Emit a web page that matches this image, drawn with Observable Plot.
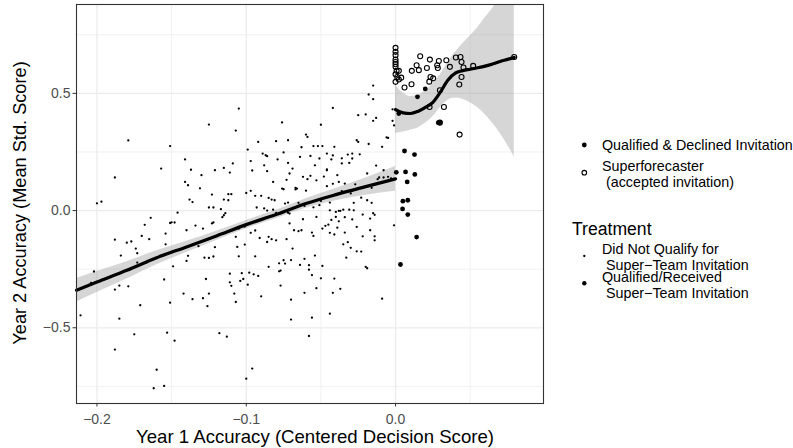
<!DOCTYPE html>
<html><head><meta charset="utf-8">
<script src="https://cdn.jsdelivr.net/npm/d3@7"></script>
<script src="https://cdn.jsdelivr.net/npm/@observablehq/plot@0.6"></script>
<style>html,body{margin:0;padding:0;background:#fff;}</style>
</head><body><div id="chart"></div>
<script>
// Did not qualify (small dots): [x, y]
const notQualified = [
[-0.211,-0.447],[-0.202,-0.260],[-0.204,-0.309],[-0.200,0.031],[-0.197,0.038],[-0.188,0.141],[-0.188,-0.124],[-0.188,-0.337],[-0.185,-0.320],[-0.185,-0.461],[-0.188,-0.593],[-0.184,-0.192],[-0.179,0.299],[-0.180,-0.137],[-0.177,-0.132],[-0.179,-0.323],[-0.174,-0.162],[-0.173,-0.182],[-0.171,-0.404],[-0.175,-0.528],[-0.173,-0.222],[-0.167,-0.223],[-0.170,-0.108],[-0.168,-0.061],[-0.165,-0.122],[-0.164,-0.031],[-0.162,-0.758],[-0.160,-0.679],[-0.157,0.179],[-0.155,-0.294],[-0.154,-0.098],[-0.154,-0.144],[-0.155,-0.748],[-0.151,0.275],[-0.151,-0.053],[-0.151,-0.393],[-0.153,-0.521],[-0.149,-0.238],[-0.150,-0.050],[-0.148,-0.051],[-0.148,-0.555],[-0.146,-0.009],[-0.141,0.218],[-0.141,0.122],[-0.139,0.108],[-0.140,-0.084],[-0.139,-0.193],[-0.140,-0.215],[-0.138,0.047],[-0.137,0.174],[-0.136,0.036],[-0.134,-0.064],[-0.142,-0.354],[-0.136,-0.378],[-0.132,-0.152],[-0.131,0.095],[-0.130,0.151],[-0.129,-0.077],[-0.128,-0.201],[-0.127,-0.292],[-0.129,-0.374],[-0.126,-0.408],[-0.125,0.367],[-0.125,0.013],[-0.125,-0.202],[-0.125,-0.354],[-0.123,0.068],[-0.123,-0.055],[-0.122,0.013],[-0.122,-0.051],[-0.121,0.172],[-0.122,-0.196],[-0.121,-0.156],[-0.118,-0.523],[-0.117,0.006],[-0.116,-0.028],[-0.115,0.182],[-0.115,0.047],[-0.114,-0.011],[-0.113,-0.538],[-0.115,-0.020],[-0.112,0.070],[-0.112,0.044],[-0.111,-0.269],[-0.111,0.162],[-0.111,-0.306],[-0.110,-0.321],[-0.110,0.070],[-0.109,0.201],[-0.108,-0.354],[-0.107,-0.112],[-0.107,0.341],[-0.107,-0.390],[-0.106,-0.155],[-0.105,0.435],[-0.105,-0.195],[-0.105,-0.077],[-0.104,-0.300],[-0.103,-0.267],[-0.102,-0.292],[-0.101,-0.068],[-0.101,-0.145],[-0.100,-0.717],[-0.100,0.075],[-0.099,-0.316],[-0.099,0.260],[-0.098,-0.265],[-0.097,0.084],[-0.097,-0.095],[-0.097,0.211],[-0.096,-0.674],[-0.096,0.171],[-0.095,-0.272],[-0.094,0.063],[-0.094,-0.085],[-0.094,-0.195],[-0.093,0.013],[-0.092,0.293],[-0.092,-0.279],[-0.091,-0.117],[-0.090,0.063],[-0.090,-0.366],[-0.089,0.243],[-0.088,0.193],[-0.088,0.009],[-0.087,0.236],[-0.086,0.168],[-0.086,0.232],[-0.086,-0.134],[-0.086,0.000],[-0.085,-0.112],[-0.085,0.054],[-0.085,-0.240],[-0.083,0.047],[-0.083,-0.122],[-0.082,0.122],[-0.082,0.004],[-0.081,0.044],[-0.080,-0.010],[-0.080,0.296],[-0.080,-0.127],[-0.079,0.218],[-0.078,-0.225],[-0.078,-0.259],[-0.077,-0.320],[-0.076,0.376],[-0.077,-0.256],[-0.076,0.094],[-0.075,-0.212],[-0.075,0.091],[-0.075,0.248],[-0.074,0.030],[-0.074,-0.226],[-0.073,0.131],[-0.073,-0.122],[-0.072,0.034],[-0.072,0.300],[-0.072,0.203],[-0.072,-0.009],[-0.071,0.158],[-0.071,-0.013],[-0.071,-0.055],[-0.070,-0.211],[-0.070,-0.465],[-0.070,-0.380],[-0.069,0.179],[-0.069,-0.162],[-0.068,-0.084],[-0.067,0.097],[-0.067,0.090],[-0.066,0.094],[-0.065,-0.088],[-0.065,0.033],[-0.064,0.229],[-0.064,-0.232],[-0.063,-0.084],[-0.063,0.270],[-0.062,0.144],[-0.062,-0.037],[-0.061,0.020],[-0.061,-0.206],[-0.061,-0.351],[-0.060,0.085],[-0.060,0.324],[-0.059,0.314],[-0.059,0.134],[-0.058,-0.233],[-0.058,-0.252],[-0.058,-0.535],[-0.057,0.233],[-0.057,0.148],[-0.056,-0.094],[-0.056,-0.275],[-0.056,-0.457],[-0.055,0.275],[-0.055,-0.108],[-0.055,0.014],[-0.054,0.193],[-0.054,-0.192],[-0.053,0.129],[-0.053,-0.331],[-0.053,-0.027],[-0.052,0.275],[-0.051,0.023],[-0.051,0.222],[-0.050,0.366],[-0.050,-0.289],[-0.050,0.041],[-0.049,-0.236],[-0.049,0.275],[-0.049,-0.077],[-0.048,0.145],[-0.047,-0.065],[-0.046,0.172],[-0.046,0.104],[-0.046,0.176],[-0.046,0.243],[-0.045,-0.060],[-0.044,-0.440],[-0.044,0.001],[-0.044,-0.095],[-0.044,0.034],[-0.043,0.218],[-0.043,-0.040],[-0.042,0.438],[-0.042,0.235],[-0.042,-0.351],[-0.042,0.114],[-0.041,-0.102],[-0.041,0.272],[-0.041,-0.290],[-0.040,-0.027],[-0.040,-0.006],[-0.039,-0.073],[-0.039,0.151],[-0.038,-0.001],[-0.038,-0.046],[-0.038,0.122],[-0.037,-0.334],[-0.037,-0.001],[-0.036,0.223],[-0.036,0.083],[-0.036,0.201],[-0.035,0.004],[-0.035,-0.144],[-0.034,-0.094],[-0.034,-0.028],[-0.034,0.115],[-0.033,-0.201],[-0.032,-0.135],[-0.032,0.239],[-0.031,0.004],[-0.031,0.203],[-0.030,0.073],[-0.030,-0.159],[-0.029,0.243],[-0.029,0.222],[-0.029,-0.038],[-0.028,0.033],[-0.028,0.001],[-0.027,0.112],[-0.026,-0.070],[-0.026,-0.174],[-0.026,0.300],[-0.025,0.407],[-0.025,0.293],[-0.024,0.240],[-0.023,0.055],[-0.023,-0.175],[-0.022,-0.110],[-0.022,-0.017],[-0.020,-0.240],[-0.019,-0.246],[-0.020,0.410],[-0.019,0.044],[-0.019,0.158],[-0.018,0.284],[-0.018,0.495],[-0.017,-0.034],[-0.017,-0.084],[-0.016,0.033],[-0.016,0.097],[-0.015,-0.011],[-0.015,0.533],[-0.015,0.475],[-0.015,0.383],[-0.014,-0.110],[-0.014,-0.127],[-0.013,0.192],[-0.014,-0.018],[-0.013,0.395],[-0.012,0.134],[-0.011,0.141],[-0.009,0.272],[-0.009,-0.376],[-0.008,0.172],[-0.008,0.141],[-0.006,0.312],[-0.005,0.144],[-0.005,0.310],[-0.003,0.137],[-0.002,0.383],[-0.002,0.432],[-0.001,0.363],[-0.001,-0.063]
];
// Qualified & declined invitation (filled larger dots)
const declined = [[0.0005,0.163],[0.0022,0.414],[0.0033,-0.230],[0.0049,0.040],[0.0047,0.007],[0.006,0.254],[0.0067,0.165],[0.0078,0.122],[0.0082,0.044],[0.0082,-0.017],[0.0127,0.239],[0.0129,0.154],[0.0141,-0.113],[0.0147,0.485],[0.0199,0.519],[0.0286,0.375],[0.0297,0.375]];
// Superforecasters (open circles)
const superforecasters = [[0,0.694],[0,0.677],[0,0.663],[0,0.644],[0,0.634],[0,0.624],[0,0.613],[0.0007,0.596],[0,0.581],[0.0011,0.570],[0,0.549],[0.0022,0.596],[0.0038,0.567],[0.0022,0.559],[0.006,0.525],[0.0107,0.539],[0.0109,0.596],[0.0141,0.620],[0.0156,0.599],[0.0165,0.658],[0.021,0.608],[0.023,0.644],[0.0226,0.550],[0.0234,0.570],[0.0252,0.564],[0.0279,0.620],[0.0283,0.608],[0.029,0.638],[0.0297,0.513],[0.0228,0.442],[0.0324,0.442],[0.034,0.641],[0.0364,0.613],[0.0404,0.653],[0.0435,0.655],[0.0442,0.634],[0.0455,0.610],[0.0442,0.570],[0.0427,0.538],[0.0429,0.324],[0.052,0.617],[0.0795,0.655],[0.0297,0.375]];

// Smooth fit, non-qualifiers (x < 0)
const leftX   = [-0.2137,-0.20,-0.18,-0.16,-0.14,-0.12,-0.10,-0.08,-0.06,-0.04,-0.02,0];
const leftFit = [-0.340,-0.305,-0.255,-0.201,-0.155,-0.108,-0.060,-0.017,0.030,0.068,0.102,0.135];
const leftLo  = [-0.390,-0.350,-0.292,-0.231,-0.179,-0.128,-0.078,-0.035,0.010,0.042,0.065,0.082];
const leftHi  = [-0.290,-0.260,-0.218,-0.171,-0.131,-0.088,-0.042,0.001,0.050,0.094,0.139,0.188];
// Smooth fit, qualifiers (x >= 0)
const rightX   = [0,0.005,0.010,0.015,0.020,0.025,0.030,0.035,0.040,0.045,0.050,0.055,0.060,0.065,0.070,0.075,0.0795];
const rightFit = [0.431,0.417,0.414,0.423,0.440,0.462,0.505,0.556,0.586,0.597,0.603,0.609,0.616,0.625,0.636,0.645,0.653];
const rightLo  = [0.329,0.335,0.343,0.352,0.372,0.400,0.440,0.470,0.480,0.475,0.460,0.440,0.410,0.372,0.330,0.280,0.229];
const rightHi  = [0.535,0.502,0.487,0.492,0.510,0.540,0.580,0.630,0.675,0.712,0.745,0.780,0.822,0.862,0.915,0.990,1.070];

const xTicks = [-0.2,-0.1,0.0];
const xMinor = [-0.15,-0.05,0.05];
const yTicks = [-0.5,0.0,0.5];
const yMinor = [-0.75,-0.25,0.25,0.75];

const pts = a => a.map(([x, y]) => ({x, y}));
const band = (X, F, L, H) => X.map((x, i) => ({x, fit: F[i], lo: L[i], hi: H[i]}));
const leftRows = band(leftX, leftFit, leftLo, leftHi);
const rightRows = band(rightX, rightFit, rightLo, rightHi);

const font = "'Liberation Sans', Arial, Helvetica, sans-serif";
const chart = Plot.plot({
  width: 793, height: 448,
  marginLeft: 76, marginRight: 250, marginTop: 4, marginBottom: 45,
  style: {fontFamily: font, fontSize: "14px", color: "#333333", background: "#ffffff", overflow: "visible"},
  x: {domain: [-0.2137, 0.0991], ticks: xTicks, tickFormat: d3.format(".1f"), tickSize: 3.5, tickPadding: 7, label: null},
  y: {domain: [-0.823, 0.879], ticks: yTicks, tickFormat: d3.format(".1f"), tickSize: 3.5, tickPadding: 2.5, label: null},
  marks: [
    Plot.ruleX(xMinor, {stroke: "#EBEBEB", strokeWidth: 0.7}),
    Plot.ruleY(yMinor, {stroke: "#EBEBEB", strokeWidth: 0.7}),
    Plot.ruleX(xTicks, {stroke: "#EBEBEB", strokeWidth: 1.3}),
    Plot.ruleY(yTicks, {stroke: "#EBEBEB", strokeWidth: 1.3}),
    Plot.areaY(leftRows, {x: "x", y1: "lo", y2: "hi", fill: "#999999", fillOpacity: 0.4, curve: "monotone-x", clip: true}),
    Plot.areaY(rightRows, {x: "x", y1: "lo", y2: "hi", fill: "#999999", fillOpacity: 0.4, curve: "monotone-x", clip: true}),
    Plot.dot(pts(notQualified), {x: "x", y: "y", r: 1.15, fill: "black"}),
    Plot.dot(pts(declined), {x: "x", y: "y", r: 2.4, fill: "black"}),
    Plot.dot(pts(superforecasters), {x: "x", y: "y", r: 2.5, fill: "none", stroke: "black", strokeWidth: 1.1}),
    Plot.line(leftRows, {x: "x", y: "fit", stroke: "black", strokeWidth: 3.2, curve: "monotone-x"}),
    Plot.line(rightRows, {x: "x", y: "fit", stroke: "black", strokeWidth: 3.2, curve: "monotone-x"}),
    Plot.frame({stroke: "#333333", strokeWidth: 1.1})
  ]
});
document.getElementById("chart").appendChild(chart);

const svg = d3.select(chart);
svg.selectAll('[aria-label^="x-axis"] text, [aria-label^="y-axis"] text').attr("fill", "#4D4D4D").style("fill", "#4D4D4D");

function txt(x, y, s, size, anchor) {
  return svg.append("text").attr("x", x).attr("y", y).text(s)
    .attr("text-anchor", anchor || "start")
    .style("text-anchor", anchor || "start")
    .style("font-family", font).style("font-size", size + "px").style("fill", "#000").style("white-space", "pre");
}
// axis titles
txt(315, 443, "Year 1 Accuracy (Centered Decision Score)", 18.6, "middle");
txt(0, 0, "Year 2 Accuracy (Mean Std. Score)", 18.2, "middle").attr("transform", "translate(26,203) rotate(-90)");

// legends
const lx = 584.3, tx = 602, ls = 14.3;
svg.append("circle").attr("cx", lx).attr("cy", 145).attr("r", 2.4).attr("fill", "black");
txt(tx, 150, "Qualified & Declined Invitation", ls);
svg.append("circle").attr("cx", lx).attr("cy", 172.7).attr("r", 2.3).attr("fill", "none").attr("stroke", "black").attr("stroke-width", 1.1);
txt(tx, 170.5, "Superforecaster", ls);
txt(tx, 186.5, " (accepted invitation)", ls);

txt(572, 234.5, "Treatment", 17.6);
svg.append("circle").attr("cx", lx).attr("cy", 256).attr("r", 1.15).attr("fill", "black");
txt(tx, 254, "Did Not Qualify for", ls);
txt(tx, 270, " Super\u2212Team Invitation", ls);
svg.append("circle").attr("cx", lx).attr("cy", 283.3).attr("r", 2.2).attr("fill", "black");
txt(tx, 282, "Qualified/Received", ls);
txt(tx, 298, " Super\u2212Team Invitation", ls);
</script>
</body></html>
